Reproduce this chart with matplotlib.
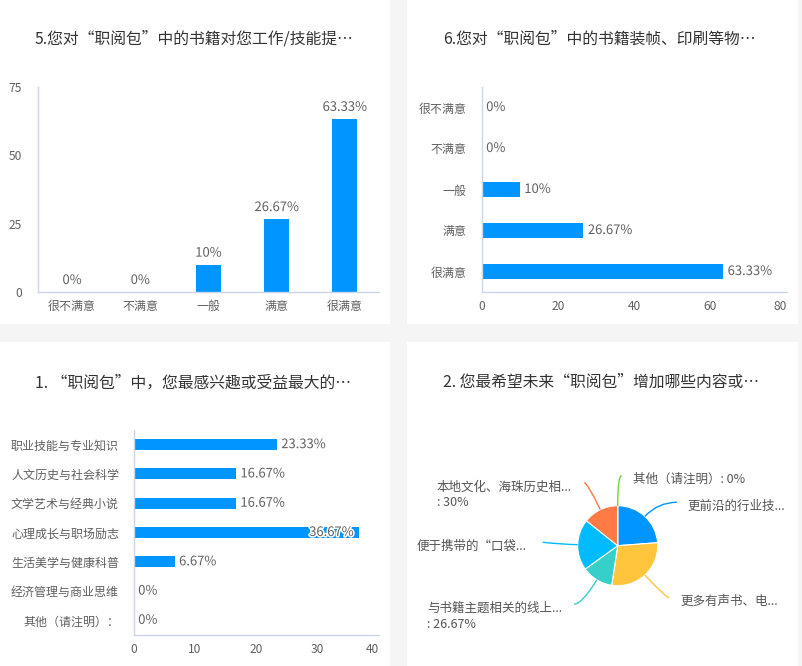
import matplotlib
matplotlib.use('Agg')
import matplotlib.pyplot as plt
import numpy as np
from matplotlib.patches import Rectangle, PathPatch
from matplotlib.path import Path
import matplotlib.patheffects as pe

plt.rcParams['font.family'] = ['Noto Sans CJK SC', 'DejaVu Sans']

# ---------------- data ----------------
q5_title = "5.您对“职阅包”中的书籍对您工作/技能提…"
q5_categories = ['很不满意', '不满意', '一般', '满意', '很满意']
q5_values = [0, 0, 10, 26.67, 63.33]
q5_yticks = [0, 25, 50, 75]

q6_title = "6.您对“职阅包”中的书籍装帧、印刷等物…"
q6_categories = ['很不满意', '不满意', '一般', '满意', '很满意']
q6_values = [0, 0, 10, 26.67, 63.33]
q6_xticks = [0, 20, 40, 60, 80]

q1_title = "1. “职阅包”中，您最感兴趣或受益最大的…"
q1_categories = ['职业技能与专业知识', '人文历史与社会科学', '文学艺术与经典小说',
                 '心理成长与职场励志', '生活美学与健康科普', '经济管理与商业思维',
                 '其他（请注明）：']
q1_values = [23.33, 16.67, 16.67, 36.67, 6.67, 0, 0]
q1_xticks = [0, 10, 20, 30, 40]

q2_title = "2. 您最希望未来“职阅包”增加哪些内容或…"
q2_labels = ['更前沿的行业技...', '更多有声书、电...', '与书籍主题相关的线上...\n: 26.67%',
             '便于携带的“口袋...', '本地文化、海珠历史相...\n: 30%', '其他（请注明）: 0%']
q2_values = [50, 60, 26.67, 43.33, 30, 0]

# ---------------- style ----------------
W, H, DPI = 802, 666, 100
BG = '#F5F5F5'
BAR = '#0095FF'
PIE_COLORS = ['#0095FF', '#FFC53D', '#36CFC9', '#00BCFF', '#FF7A45', '#73D13D']
AXIS = '#CCD6EB'
TICK = '#606060'
LABEL = '#606060'
TITLE = '#333333'


def pt(px):
    return px * 72.0 / DPI


fig = plt.figure(figsize=(W / DPI, H / DPI), dpi=DPI, facecolor=BG)


def px_axes(l, t, r, b):
    ax = fig.add_axes([l / W, 1 - b / H, (r - l) / W, (b - t) / H])
    ax.set_facecolor('none')
    return ax


def panel(l, t, r, b):
    fig.patches.append(Rectangle((l / W, 1 - b / H), (r - l) / W, (b - t) / H,
                                 transform=fig.transFigure, facecolor='white',
                                 edgecolor='none', zorder=-5))


def title(x, y, s):
    fig.text(x / W, 1 - y / H, s, ha='left', va='center', fontsize=pt(15.8), color=TITLE)


def style(ax):
    for s in ['top', 'right']:
        ax.spines[s].set_visible(False)
    for s in ['left', 'bottom']:
        ax.spines[s].set_color(AXIS)
        ax.spines[s].set_linewidth(1)
    ax.tick_params(length=0, labelsize=pt(12), colors=TICK)


outline = [pe.withStroke(linewidth=2.2, foreground='white')]

panel(0, 0, 390, 323.5)
panel(407, 0, 798, 323.5)
panel(0, 342, 390, 666)
panel(407, 342, 798, 666)

# ---------- Q5 vertical bars ----------
title(35, 39, q5_title)
ax1 = px_axes(38, 87, 379, 292)
style(ax1)
x5 = np.arange(len(q5_categories))
ax1.bar(x5, q5_values, width=0.367, color=BAR)
ax1.set_xlim(-0.5, len(q5_categories) - 0.5)
ax1.set_ylim(0, q5_yticks[-1])
ax1.set_yticks(q5_yticks)
ax1.set_xticks(x5, q5_categories)
ax1.tick_params(axis='y', pad=pt(16))
ax1.tick_params(axis='x', pad=pt(8))
for i, v in enumerate(q5_values):
    ax1.annotate(f'{v:g}%', (i, v), xytext=(0, pt(5)), textcoords='offset points',
                 ha='center', va='bottom', fontsize=pt(13), color=LABEL,
                 path_effects=outline)


# ---------- horizontal bars helper ----------
def hbars(ax, cats, vals, ticks, height, ypad):
    style(ax)
    y = np.arange(len(cats))
    ax.barh(y, vals, height=height, color=BAR)
    ax.set_ylim(len(cats) - 0.5, -0.5)
    ax.set_xlim(0, ticks[-1])
    ax.set_xticks(ticks)
    ax.set_yticks(y, cats)
    ax.tick_params(axis='y', pad=pt(ypad))
    ax.tick_params(axis='x', pad=pt(8))
    ax.get_xticklabels()[-1].set_ha('right')
    for i, v in enumerate(vals):
        if v > 0.85 * ticks[-1]:
            ax.annotate(f'{v:g}%', (v, i), xytext=(-pt(5), 0), textcoords='offset points',
                        ha='right', va='center', fontsize=pt(13), color=LABEL,
                        path_effects=outline)
        else:
            ax.annotate(f'{v:g}%', (v, i), xytext=(pt(4.5), 0), textcoords='offset points',
                        ha='left', va='center', fontsize=pt(13), color=LABEL,
                        path_effects=outline)


# ---------- Q6 ----------
title(442.7, 39, q6_title)
ax2 = px_axes(481.7, 87, 786.7, 292)
hbars(ax2, q6_categories, q6_values, q6_xticks, 0.366, 15)

# ---------- Q1 ----------
title(35, 383, q1_title)
ax3 = px_axes(133.7, 430, 379, 635)
hbars(ax3, q1_categories, q1_values, q1_xticks, 0.375, 14.7)

# ---------- Q2 pie ----------
title(442.7, 382, q2_title)
cx, cy, R = 617.7, 545.7, 40.0
half = 150
ax4 = px_axes(cx - half, cy - half, cx + half, cy + half)
ax4.pie(q2_values, colors=PIE_COLORS, startangle=90, counterclock=False, radius=1,
        center=(0, 0), wedgeprops=dict(edgecolor='white', linewidth=0.8))
ax4.set_aspect('equal')
ax4.set_xlim(-half / R, half / R)
ax4.set_ylim(-half / R, half / R)
ax4.axis('off')

# layout of connector ends (in radius units) and label gaps (px)
conn_end = [(1.48, 1.085), (1.29, -1.30), (-1.09, -1.46), (-1.875, 0.085),
            (-0.84, 1.575), (0.10, 1.75)]
label_gap = [11, 11, 12, 16, 12, 11]
total = float(sum(q2_values))
ang = 90.0
for k, v in enumerate(q2_values):
    span = 360.0 * v / total
    mid = np.deg2rad(ang - span / 2)
    ang -= span
    sx, sy = np.cos(mid), np.sin(mid)
    ex, ey = conn_end[k]
    ratio = ey / sy if abs(sy) > 1e-6 else 99.0
    if 1.0 <= ratio <= 1.8:
        ccx, ccy = ratio * sx, ey
    else:
        ccx, ccy = 1.4 * sx, 1.4 * sy
    path = Path([(sx, sy), (ccx, ccy), (ex, ey)], [Path.MOVETO, Path.CURVE3, Path.CURVE3])
    ax4.add_patch(PathPatch(path, facecolor='none', edgecolor=PIE_COLORS[k], lw=1.0,
                            clip_on=False))
    right = ex >= 0
    gap = label_gap[k] / R
    tx = ex + gap if right else ex - gap
    lab = q2_labels[k]
    if '\n' in lab:
        ax4.text(tx, ey + 2.0 / R, lab, ha='left' if right else 'right', va='top',
                 multialignment='left', fontsize=pt(12.5), color='#555555',
                 linespacing=1.25, clip_on=False)
    else:
        ax4.text(tx, ey - 4 / R, lab, ha='left' if right else 'right', va='center',
                 fontsize=pt(12.5), color='#555555', clip_on=False)

fig.savefig('out.png', dpi=DPI, facecolor=BG)
